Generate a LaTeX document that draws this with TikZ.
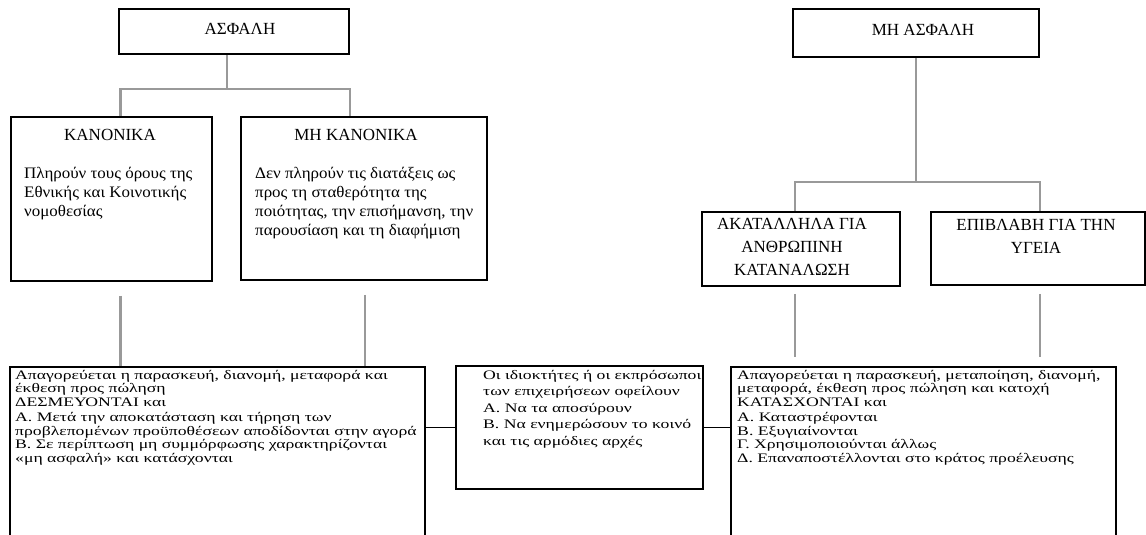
\documentclass[tikz,border=0pt]{standalone}
\usepackage{fontspec}
\setmainfont{Liberation Serif}
\newfontfamily\widefont[FakeStretch=1.36]{Liberation Serif}
\newfontfamily\upwidefont[FakeStretch=1.06]{Liberation Serif}
\usepackage{tikz}
\usetikzlibrary{positioning,calc}

\newcommand{\headfont}{\fontsize{17}{23}\selectfont}
\newcommand{\upfont}{\upwidefont\fontsize{16}{19}\selectfont}
\newcommand{\lowfont}{\widefont\fontsize{13}{13.5}\selectfont}
\newcommand{\midfont}{\widefont\fontsize{13}{16.5}\selectfont}

\begin{document}
\begin{tikzpicture}[x=1pt, y=-1pt,
  box/.style={draw, line width=1.6pt, inner sep=0pt},
  link/.style={draw=black!40, line width=2.2pt},
  conn/.style={draw, line width=0.8pt},
  head/.style={font=\headfont, align=center, inner sep=0pt},
  upbody/.style={font=\upfont, align=left, inner sep=0pt, anchor=north west},
  lowbody/.style={font=\lowfont, align=left, inner sep=0pt, anchor=north west}]
  \useasboundingbox (0,0) rectangle (1146,535);
  \clip (0,0) rectangle (1146,535);
  % top level
  \node[box, minimum width=230, minimum height=45] (safe) at (234,31.5) {};
  \node[head] (safetitle) at (240,29) {ΑΣΦΑΛΗ};
  \node[box, minimum width=246, minimum height=48] (unsafe) at (916,33) {};
  \node[head] (unsafetitle) at (923,30) {ΜΗ ΑΣΦΑΛΗ};
  % safe branch
  \node[box, minimum width=201, minimum height=164] (reg) at (111.5,199) {};
  \node[head] (regtitle) at (110,135) {ΚΑΝΟΝΙΚΑ};
  \node[upbody] (regtext) at (24,167) {Πληρούν τους όρους της\\Εθνικής και Κοινοτικής\\νομοθεσίας};
  \node[box, minimum width=246, minimum height=163] (irreg) at (364,198.5) {};
  \node[head] (irregtitle) at (356,135) {ΜΗ ΚΑΝΟΝΙΚΑ};
  \node[upbody] (irregtext) at (255,167) {Δεν πληρούν τις διατάξεις ως\\προς τη σταθερότητα της\\ποιότητας, την επισήμανση, την\\παρουσίαση και τη διαφήμιση};
  % unsafe branch
  \node[box, minimum width=198, minimum height=74] (unfit) at (801,249) {};
  \node[head] (unfittitle) at (792,247) {ΑΚΑΤΑΛΛΗΛΑ ΓΙΑ\\ΑΝΘΡΩΠΙΝΗ\\ΚΑΤΑΝΑΛΩΣΗ};
  \node[box, minimum width=214, minimum height=73] (harm) at (1038,248.5) {};
  \node[head] (harmtitle) at (1036,236) {ΕΠΙΒΛΑΒΗ ΓΙΑ ΤΗΝ\\ΥΓΕΙΑ};
  % measures
  \node[box, minimum width=415, minimum height=200] (held) at (217.5,467) {};
  \node[lowbody] (heldtext) at (15,370) {Απαγορεύεται η παρασκευή, διανομή, μεταφορά και\\έκθεση προς πώληση\\ΔΕΣΜΕΥΟΝΤΑΙ και\\[2pt]Α. Μετά την αποκατάσταση και τήρηση των\\προβλεπομένων προϋποθέσεων αποδίδονται στην αγορά\\Β. Σε περίπτωση μη συμμόρφωσης χαρακτηρίζονται\\«μη ασφαλή» και κατάσχονται};
  \node[box, minimum width=247, minimum height=123] (owners) at (579.5,427.5) {};
  \node[lowbody, font=\midfont] (ownerstext) at (483,370) {Οι ιδιοκτήτες ή οι εκπρόσωποι\\των επιχειρήσεων οφείλουν\\Α. Να τα αποσύρουν\\Β. Να ενημερώσουν το κοινό\\και τις αρμόδιες αρχές};
  \node[box, minimum width=385, minimum height=200] (seized) at (923.5,467) {};
  \node[lowbody] (seizedtext) at (737,370) {Απαγορεύεται η παρασκευή, μεταποίηση, διανομή,\\μεταφορά, έκθεση προς πώληση και κατοχή\\ΚΑΤΑΣΧΟΝΤΑΙ και\\[2pt]Α. Καταστρέφονται\\Β. Εξυγιαίνονται\\Γ. Χρησιμοποιούνται άλλως\\Δ. Επαναποστέλλονται στο κράτος προέλευσης};
  % tree lines
  \draw[link] ([xshift=-7]safe.south) -- ++(0,34) coordinate (safefork);
  \draw[link] ([xshift=9]reg.north) |- (safefork) -| ([xshift=-14]irreg.north);
  \draw[link] (unsafe.south) -- ++(0,124) coordinate (unsafefork);
  \draw[link] ([xshift=-6]unfit.north) |- (unsafefork) -| ([xshift=2]harm.north);
  \draw[link] ([shift={(9,14)}]reg.south) -- ([xshift=9]reg.south |- held.north);
  \draw[link] ([shift={(1,14)}]irreg.south) -- ([xshift=1]irreg.south |- held.north);
  \draw[link] ([shift={(-6,7)}]unfit.south) -- ([shift={(-6,-9)}]unfit.south |- seized.north);
  \draw[link] ([shift={(2,8)}]harm.south) -- ([shift={(2,-9)}]harm.south |- seized.north);
  \draw[conn] (held.east |- owners.west) -- (owners.west);
  \draw[conn] (owners.east) -- (owners.east -| seized.west);
\end{tikzpicture}
\end{document}
